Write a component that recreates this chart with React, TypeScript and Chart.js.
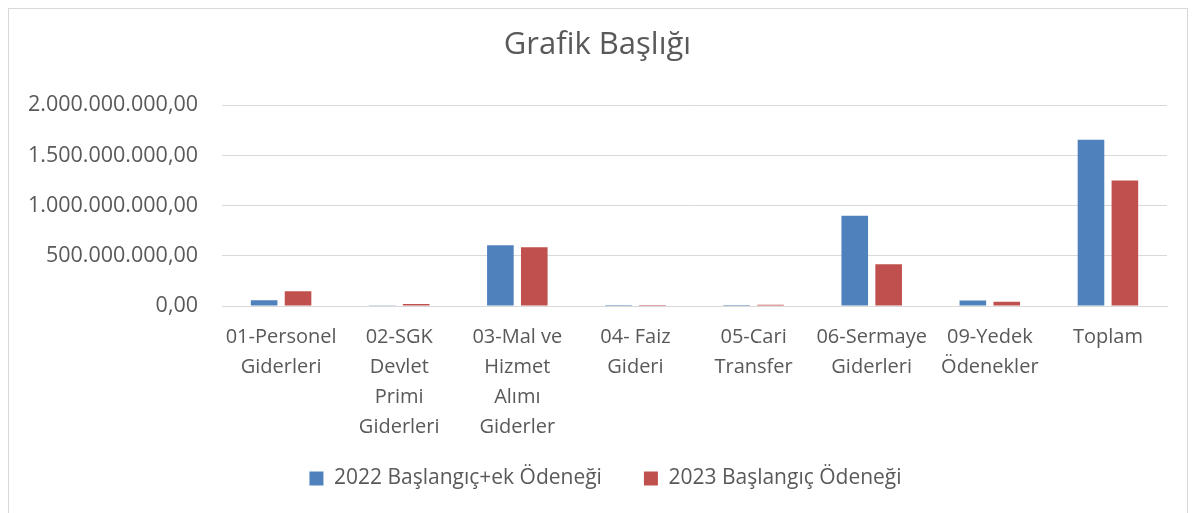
import React, { useEffect, useRef } from "react";
import { Chart, registerables } from "chart.js";

Chart.register(...registerables);

const categories: string[][] = [
  ["01-Personel", "Giderleri"],
  ["02-SGK", "Devlet", "Primi", "Giderleri"],
  ["03-Mal ve", "Hizmet", "Alımı", "Giderler"],
  ["04- Faiz", "Gideri"],
  ["05-Cari", "Transfer"],
  ["06-Sermaye", "Giderleri"],
  ["09-Yedek", "Ödenekler"],
  ["Toplam"],
];

const series2022: number[] = [57000000, 2000000, 605000000, 1000000, 10000000, 900000000, 55000000, 1657000000];
const series2023: number[] = [147000000, 20000000, 585000000, 500000, 12000000, 415000000, 43000000, 1250000000];

const seriesNames = ["2022 Başlangıç+ek Ödeneği", "2023 Başlangıç Ödeneği"];
const yTicks = [0, 500000000, 1000000000, 1500000000, 2000000000];

function formatTR(v: number): string {
  const intPart = Math.round(v).toString().replace(/\B(?=(\d{3})+(?!\d))/g, ".");
  return intPart + ",00";
}

const legendShift = {
  id: "legendShift",
  afterLayout(chart: any) {
    const lg = chart.legend;
    if (!lg) return;
    lg.top -= 16;
    lg.bottom -= 16;
    lg.left += 8;
    lg.right += 8;
  },
};

export default function App() {
  const ref = useRef<HTMLCanvasElement>(null);
  useEffect(() => {
    if (!ref.current) return;
    const font = "'Open Sans', sans-serif";
    const chart = new Chart(ref.current, {
      type: "bar",
      data: {
        labels: categories,
        datasets: [
          {
            label: seriesNames[0],
            data: series2022,
            backgroundColor: "#4f81bd",
            categoryPercentage: 0.574,
            barPercentage: 0.785,
          },
          {
            label: seriesNames[1],
            data: series2023,
            backgroundColor: "#c0504d",
            categoryPercentage: 0.574,
            barPercentage: 0.785,
          },
        ],
      },
      plugins: [legendShift],
      options: {
        animation: false,
        responsive: false,
        maintainAspectRatio: false,
        layout: { padding: { left: 19, right: 20, top: 8, bottom: 4 } },
        plugins: {
          title: {
            display: true,
            text: "Grafik Başlığı",
            color: "#595959",
            font: { family: font, size: 31, weight: "normal" },
            padding: { top: 10, bottom: 41 },
          },
          legend: {
            position: "bottom",
            labels: {
              color: "#595959",
              font: { family: font, size: 21 },
              boxWidth: 14,
              boxHeight: 14,
              padding: 42,
            },
          },
          tooltip: { enabled: false },
        },
        scales: {
          x: {
            grid: { display: false, drawTicks: false },
            border: { display: true, color: "#d9d9d9", width: 1 },
            ticks: {
              color: "#595959",
              font: { family: font, size: 20, lineHeight: 1.5 },
              padding: 16,
              maxRotation: 0,
              autoSkip: false,
            },
            afterFit: (axis: any) => {
              axis.height = axis.height - 16;
            },
          },
          y: {
            min: 0,
            max: 2000000000,
            afterBuildTicks: (axis: any) => {
              axis.ticks = yTicks.map((v) => ({ value: v }));
            },
            grid: { color: "#d9d9d9", drawTicks: false },
            border: { display: false },
            ticks: {
              color: "#595959",
              font: { family: font, size: 21.5 },
              padding: 24,
              callback: (v: any) => formatTR(Number(v)),
            },
            afterFit: (axis: any) => {
              axis.width = axis.width - 24;
            },
          },
        },
      },
    });
    return () => chart.destroy();
  }, []);
  return (
    <div style={{ height: 510, border: "1px solid #d9d9d9", background: "#fff" }}>
      <canvas ref={ref} width={1178} height={510} />
    </div>
  );
}
